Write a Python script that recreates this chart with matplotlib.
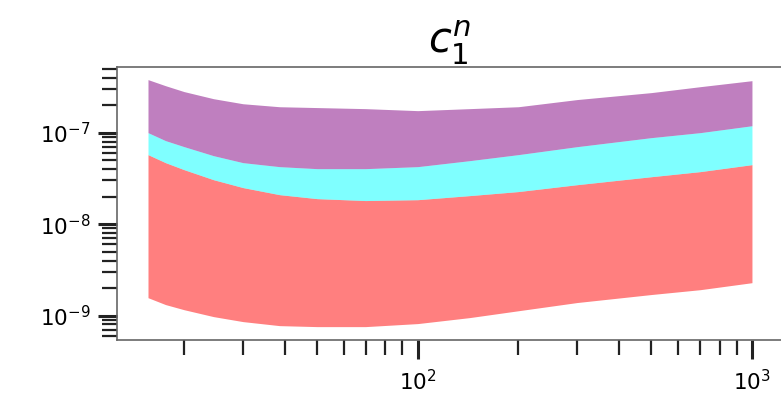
import numpy as np
import matplotlib
matplotlib.use("Agg")
import matplotlib.pyplot as plt
from matplotlib.ticker import LogLocator, NullFormatter

x = [15.6, 17.6, 20, 24.5, 30, 38.6, 50, 69.8, 100, 143, 200, 300, 500, 700, 1000]
purple_top = [3.80e-7, 3.26e-7, 2.81e-7, 2.35e-7, 2.07e-7, 1.92e-7, 1.88e-7, 1.83e-7,
              1.74e-7, 1.83e-7, 1.92e-7, 2.30e-7, 2.74e-7, 3.18e-7, 3.70e-7]
purple_bot = [1.00e-7, 8.18e-8, 7.03e-8, 5.60e-8, 4.70e-8, 4.25e-8, 4.04e-8, 4.04e-8,
              4.25e-8, 4.94e-8, 5.75e-8, 7.03e-8, 8.82e-8, 1.00e-7, 1.19e-7]
cyan_bot = [5.75e-8, 4.70e-8, 3.94e-8, 3.06e-8, 2.51e-8, 2.10e-8, 1.90e-8, 1.81e-8,
            1.85e-8, 2.05e-8, 2.27e-8, 2.70e-8, 3.30e-8, 3.75e-8, 4.47e-8]
red_bot = [1.57e-9, 1.32e-9, 1.16e-9, 9.75e-10, 8.60e-10, 7.77e-10, 7.58e-10, 7.58e-10,
           8.18e-10, 9.51e-10, 1.13e-9, 1.39e-9, 1.70e-9, 1.92e-9, 2.29e-9]

fig = plt.figure(figsize=(7.81, 3.95), dpi=100)
ax = fig.add_axes([0.1498, 0.139, 0.853, 0.691])

ax.fill_between(x, red_bot, cyan_bot, color="red", alpha=0.5, linewidth=0)
ax.fill_between(x, cyan_bot, purple_bot, color="cyan", alpha=0.5, linewidth=0)
ax.fill_between(x, purple_bot, purple_top, color="purple", alpha=0.5, linewidth=0)

ax.set_xscale("log")
ax.set_yscale("log")
ax.set_xlim(12.6, 1240)
ax.set_ylim(5.4e-10, 5.2e-7)

ax.xaxis.set_major_locator(LogLocator(base=10))
ax.xaxis.set_minor_locator(LogLocator(base=10, subs=np.arange(2, 10)))
ax.xaxis.set_minor_formatter(NullFormatter())
ax.yaxis.set_major_locator(LogLocator(base=10))
ax.yaxis.set_minor_locator(LogLocator(base=10, subs=np.arange(2, 10)))
ax.yaxis.set_minor_formatter(NullFormatter())

ax.tick_params(which="major", length=14, width=2.2, labelsize=15.5, color="#222222", pad=5)
ax.tick_params(which="minor", length=11, width=1.6, color="#222222")
ax.tick_params(axis="x", which="major", pad=7)

for s in ["left", "bottom", "top", "right"]:
    ax.spines[s].set_color("#666666")
    ax.spines[s].set_linewidth(1.2)

ax.set_title(r"$c_1^n$", fontsize=30, pad=3)

fig.savefig("out.png", dpi=100)
